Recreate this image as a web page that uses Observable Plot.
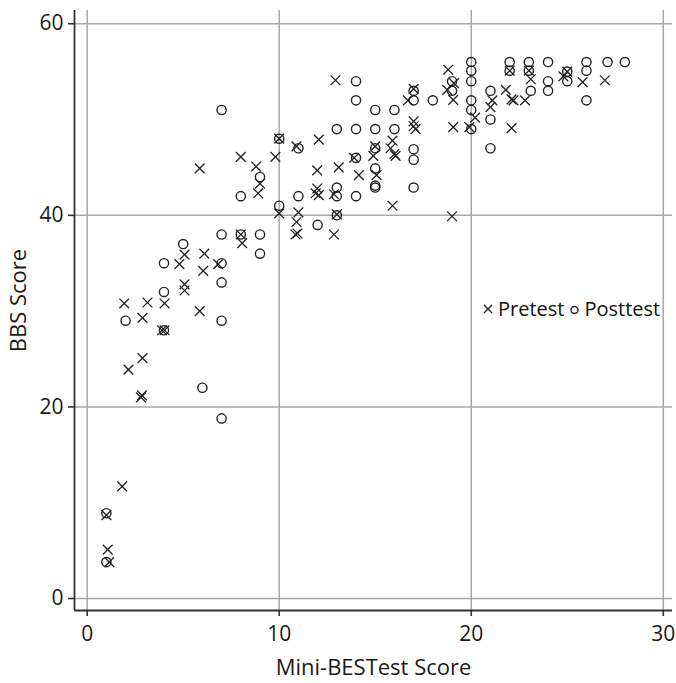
<!DOCTYPE html>
<html><head><meta charset="utf-8">
<script src="https://cdn.jsdelivr.net/npm/d3@7"></script>
<script src="https://cdn.jsdelivr.net/npm/@observablehq/plot@0.6"></script>
<style>
html,body{margin:0;padding:0;background:#fff;}
#wrap{position:relative;width:676px;height:683px;}
#legend{position:absolute;left:483px;top:295px;height:27px;line-height:27px;font-family:"Open Sans",sans-serif;font-size:20px;display:flex;align-items:center;color:#111;white-space:nowrap}
#legend svg{display:block}
</style></head><body><div id="wrap"></div>
<script>
// Pretest (Mini-BESTest, BBS)
const preX = [5.86,8,8.8,9,8.9,9.8,10,10,8.07,8,5.07,4.8,6.1,6.04,6.82,5.07,5.07,4.03,1.93,3.14,2.88,5.86,4.03,3.9,2.88,2.15,2.8,2.85,1.82,1.0,1.07,1.15,12.93,17,17,17.1,19.06,19.9,20.2,18.8,18.75,19.06,19.1,17,16.7,15.9,15.8,16.06,16.0,15.9,14.9,15,15.07,13.9,14.15,13.1,11.98,12.06,10.9,12.85,11.98,12.06,11.9,11,10.9,10.85,10.95,12.85,13,19.0,21.1,21,21.8,22.1,22.2,22.1,22,23.1,23,22.8,25,24.8,25.8,26.96];
const preY = [44.9,46.1,45.1,43.3,42.3,46.1,48,40.2,37.1,38,35.9,34.9,36.0,34.2,34.9,32.8,32.15,30.8,30.8,30.9,29.3,30.0,28.0,28.0,25.1,23.9,21.0,21.2,11.7,8.7,5.1,3.8,54.1,49.8,49.3,49.0,49.2,49.2,50.2,55.2,53.1,52.05,53.8,53.2,52,47.8,47.0,46.2,46.4,41.0,46.2,47.2,44.2,46,44.2,45.0,44.7,47.9,47.2,42.2,42.8,42.1,42.3,40.3,39.3,38.0,38.1,38.0,40.1,39.9,52,51.3,53.1,52.1,52.0,49.1,55.1,54.2,55.1,52,55,54.5,53.9,54.1];
// Posttest (Mini-BESTest, BBS)
const postX = [7,10,9,8,10,7,8,9,9,5,4,7,7,4,2,7,4,6,7,1,1,14,14,15,16,13,14,15,16,20,20,20,20,20,20,19,19,18,17,17,17,17,17,15,15,15,15,14,11,13,13,14,11,12,13,21,21,21,22,22,23,23,23.1,24,24,24,25,25,26,26,26,27.1,28];
const postY = [51,48,44,42,41,38,38,38,36,37,35,35,33,32,29,29,28,22,18.8,8.9,3.8,54,52,51,51,49,49,49,49,49,51,52,54,55.1,56,54,53,52,53,52,46.9,45.8,42.9,47,44.9,42.9,43.1,46,47,42.9,42,42,42,39,40,53,50,47,56,55.1,56,55.1,53,56,54,53,55,54,56,55.1,52,56,56];
const xTicks = [0,10,20,30];
const yTicks = [0,20,40,60];
const xDomain = [-0.66,30.48];
const yDomain = [-1.25,61.38];
const xTitle = "Mini-BESTest Score";
const yTitle = "BBS Score";
const seriesNames = ["Pretest","Posttest"];

const pre = preX.map((x,i)=>({x, y:preY[i]}));
const post = postX.map((x,i)=>({x, y:postY[i]}));

const font = "'Open Sans', sans-serif";
const chart = Plot.plot({
  width:676, height:683,
  marginLeft:74, marginRight:4, marginTop:10, marginBottom:73,
  style:{fontFamily:font, fontSize:"21px", color:"#1a1a1a", background:"#fff"},
  x:{domain:xDomain},
  y:{domain:yDomain},
  marks:[
    Plot.gridX(xTicks,{stroke:"#a8a8a8", strokeOpacity:1, strokeWidth:1.5}),
    Plot.gridY(yTicks,{stroke:"#a8a8a8", strokeOpacity:1, strokeWidth:1.5}),
    Plot.ruleX([xDomain[0]],{stroke:"#333", strokeWidth:1.8}),
    Plot.ruleY([yDomain[0]],{stroke:"#333", strokeWidth:1.8}),
    Plot.axisX(xTicks,{tickSize:6, tickPadding:10, stroke:"#333", strokeWidth:1.6, fontSize:21, label:null}),
    Plot.axisY(yTicks,{tickSize:6, tickPadding:5, stroke:"#333", strokeWidth:1.6, fontSize:21, label:null}),
    Plot.text([xTitle],{frameAnchor:"bottom", dy:57, lineAnchor:"middle", textAnchor:"middle", fontSize:22, fill:"#1a1a1a"}),
    Plot.text([yTitle],{frameAnchor:"left", dx:-56, dy:-10, rotate:-90, lineAnchor:"middle", textAnchor:"middle", fontSize:22, fill:"#1a1a1a"}),
    Plot.dot(pre,{x:"x", y:"y", symbol:"times", r:4.5, stroke:"#222", strokeWidth:1.3}),
    Plot.dot(post,{x:"x", y:"y", symbol:"circle", r:4.6, fill:"none", stroke:"#222", strokeWidth:1.4})
  ]
});
const wrap = document.getElementById("wrap");
wrap.appendChild(chart);

const lg = document.createElement("div");
lg.id = "legend";
lg.innerHTML =
  `<svg width="10" height="14"><path d="M1,3L9,11M9,3L1,11" stroke="#222" stroke-width="1.4"/></svg>` +
  `<span style="margin-left:5px;margin-right:6px">${seriesNames[0]}</span>` +
  `<svg width="9" height="14"><circle cx="4.5" cy="8" r="3.5" fill="none" stroke="#222" stroke-width="1.4"/></svg>` +
  `<span style="margin-left:5px">${seriesNames[1]}</span>`;
wrap.appendChild(lg);
</script>
</body></html>
